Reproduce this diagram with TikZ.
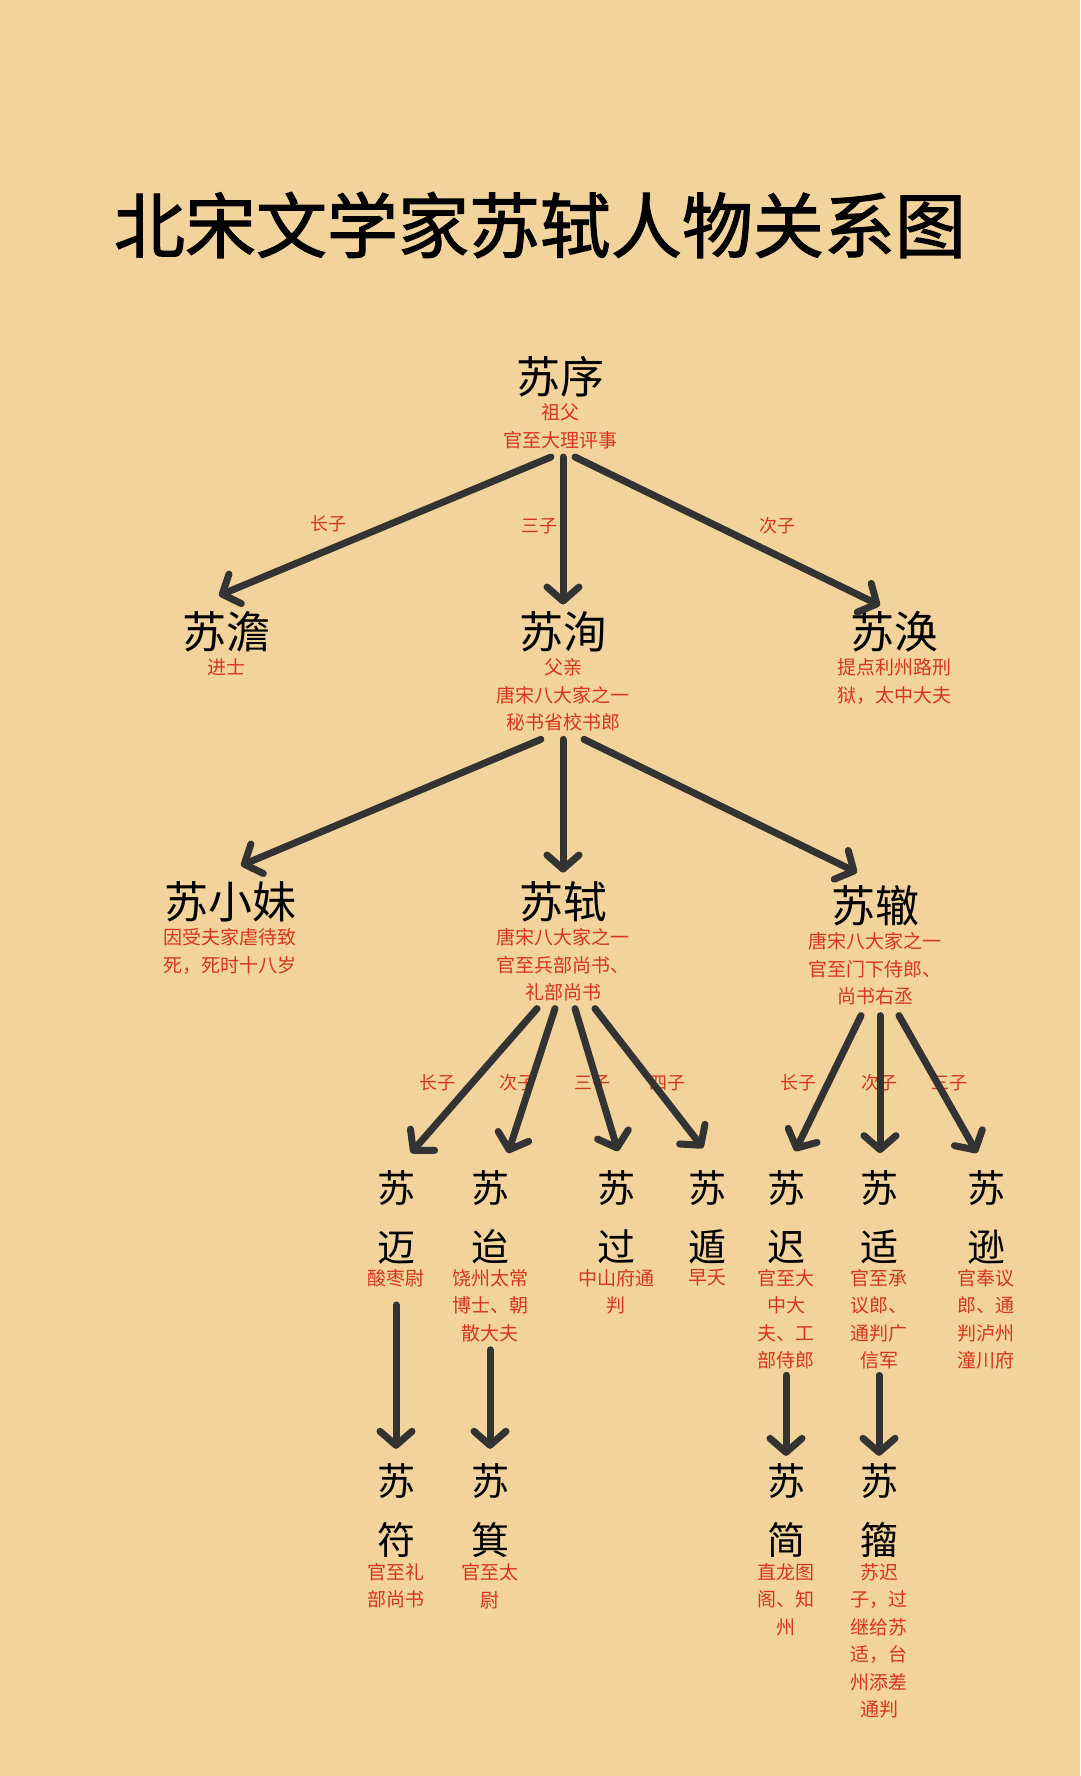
\documentclass[tikz,border=0pt]{standalone}
\usepackage{fontspec}
\usetikzlibrary{arrows.meta}
\usetikzlibrary{positioning}
\newfontfamily\cjk{Noto Sans CJK SC}
\newfontfamily\cjktitle[FakeBold=1.6]{Noto Sans CJK SC}
\definecolor{paper}{HTML}{F1D39B}
\definecolor{ink}{HTML}{333333}
\definecolor{redink}{HTML}{D5361F}

\begin{document}
\begin{tikzpicture}[x=1pt,y=1pt]
  \tikzset{myedge/.style={-{Straight Barb[length=14pt,width=32pt,round]}, line width=7pt, line cap=round, draw=ink}};
  \tikzset{bigname/.style={font=\cjk\fontsize{44}{44}\selectfont, inner sep=0pt}};
  \tikzset{colname/.style={font=\cjk\fontsize{38}{59}\selectfont, inner sep=0pt, align=center}};
  \tikzset{notes/.style={font=\cjk\fontsize{19}{27.5}\selectfont, text=redink, inner sep=0pt, align=center}};
  \tikzset{rel/.style={font=\cjk\fontsize{18}{18}\selectfont, text=redink, inner sep=0pt}};
  \fill[paper] (0,0) rectangle (1080,-1776);
  \useasboundingbox (0,0) rectangle (1080,-1776);

  \node[font=\cjktitle\fontsize{71}{71}\selectfont] (title) at (540,-225) {北宋文学家苏轼人物关系图};

  % first and second generation
  \node[bigname] (xu) at (560,-377) {苏序};
  \node[notes, below=6pt of xu] (xu-t) {祖父\\官至大理评事};
  \node[bigname] (dan) at (226,-632) {苏澹};
  \node[notes, below=6pt of dan] (dan-t) {进士};
  \node[bigname] (xun) at (563,-632) {苏洵};
  \node[notes, below=6pt of xun] (xun-t) {父亲\\唐宋八大家之一\\秘书省校书郎};
  \node[bigname] (huan) at (894,-632) {苏涣};
  \node[notes, below=6pt of huan] (huan-t) {提点利州路刑\\狱，太中大夫};

  \node[rel] (r-dan) at (328,-524) {长子};
  \node[rel] (r-xun) at (539,-526) {三子};
  \node[rel] (r-huan) at (777,-526) {次子};

  \draw [myedge] ([xshift=-9pt,yshift=-8pt]xu-t.south) -- ([xshift=-7pt,yshift=16pt]dan.north);
  \draw [myedge] ([xshift=3pt,yshift=-8pt]xu-t.south) -- ([yshift=7pt]xun.north);
  \draw [myedge] ([xshift=15pt,yshift=-8pt]xu-t.south) -- ([xshift=-14pt,yshift=6pt]huan.north);

  % children of su xun
  \node[bigname] (mei) at (230,-902) {苏小妹};
  \node[notes, below=6pt of mei] (mei-t) {因受夫家虐待致\\死，死时十八岁};
  \node[bigname] (shi) at (563,-902) {苏轼};
  \node[notes, below=6pt of shi] (shi-t) {唐宋八大家之一\\官至兵部尚书、\\礼部尚书};
  \node[bigname] (zhe) at (875,-906) {苏辙};
  \node[notes, below=6pt of zhe] (zhe-t) {唐宋八大家之一\\官至门下侍郎、\\尚书右丞};

  \draw [myedge] ([xshift=-22pt,yshift=-8pt]xun-t.south) -- ([xshift=11pt,yshift=16pt]mei.north);
  \draw [myedge] ([yshift=-8pt]xun-t.south) -- ([yshift=9pt]shi.north);
  \draw [myedge] ([xshift=21pt,yshift=-8pt]xun-t.south) -- ([xshift=-18pt,yshift=13pt]zhe.north);

  % grandsons
  \node[colname] (mai) at (396,-1217) {苏\\迈};
  \node[notes, below=5pt of mai] (mai-t) {酸枣尉};
  \node[colname] (dai) at (490,-1217) {苏\\迨};
  \node[notes, below=5pt of dai] (dai-t) {饶州太常\\博士、朝\\散大夫};
  \node[colname] (guo) at (616,-1217) {苏\\过};
  \node[notes, below=5pt of guo] (guo-t) {中山府通\\判};
  \node[colname] (dun) at (707,-1217) {苏\\遁};
  \node[notes, below=5pt of dun] (dun-t) {早夭};
  \node[colname] (chi) at (786,-1217) {苏\\迟};
  \node[notes, below=5pt of chi] (chi-t) {官至大\\中大\\夫、工\\部侍郎};
  \node[colname] (kuo) at (879,-1217) {苏\\适};
  \node[notes, below=5pt of kuo] (kuo-t) {官至承\\议郎、\\通判广\\信军};
  \node[colname] (sun) at (986,-1217) {苏\\逊};
  \node[notes, below=5pt of sun] (sun-t) {官奉议\\郎、通\\判泸州\\潼川府};

  \foreach \x/\t [count=\i] in {437/长子, 517/次子, 592/三子, 667/四子, 798/长子, 879/次子, 949/三子}
    \node[rel] (r\i) at (\x,-1083) {\t};

  \draw [myedge] ([xshift=-26pt,yshift=-7pt]shi-t.south) -- ([xshift=15pt,yshift=17pt]mai.north);
  \draw [myedge] ([xshift=-8pt,yshift=-7pt]shi-t.south) -- ([xshift=18pt,yshift=17pt]dai.north);
  \draw [myedge] ([xshift=12pt,yshift=-7pt]shi-t.south) -- ([xshift=2pt,yshift=19pt]guo.north);
  \draw [myedge] ([xshift=32pt,yshift=-7pt]shi-t.south) -- ([xshift=-4pt,yshift=22pt]dun.north);

  \draw [myedge] ([xshift=-14pt,yshift=-10pt]zhe-t.south) -- ([xshift=9pt,yshift=19pt]chi.north);
  \draw [myedge] ([xshift=5pt,yshift=-10pt]zhe-t.south) -- ([xshift=1pt,yshift=17pt]kuo.north);
  \draw [myedge] ([xshift=24pt,yshift=-10pt]zhe-t.south) -- ([xshift=-9pt,yshift=17pt]sun.north);

  % great-grandsons
  \node[colname] (fu) at (396,-1511) {苏\\符};
  \node[notes, below=5pt of fu] (fu-t) {官至礼\\部尚书};
  \node[colname] (ji) at (490,-1511) {苏\\箕};
  \node[notes, below=5pt of ji] (ji-t) {官至太\\尉};
  \node[colname] (jian) at (786,-1511) {苏\\简};
  \node[notes, below=5pt of jian] (jian-t) {直龙图\\阁、知\\州};
  \node[colname] (zhou) at (879,-1511) {苏\\籀};
  \node[notes, below=5pt of zhou] (zhou-t) {苏迟\\子，过\\继给苏\\适，台\\州添差\\通判};

  \draw [myedge] ([yshift=-18pt]mai-t.south) -- ([yshift=15pt]fu.north);
  \draw [myedge] ([yshift=-8pt]dai-t.south) -- ([yshift=15pt]ji.north);
  \draw [myedge] ([yshift=-6pt]chi-t.south) -- ([yshift=8pt]jian.north);
  \draw [myedge] ([yshift=-6pt]kuo-t.south) -- ([yshift=8pt]zhou.north);
\end{tikzpicture}
\end{document}
